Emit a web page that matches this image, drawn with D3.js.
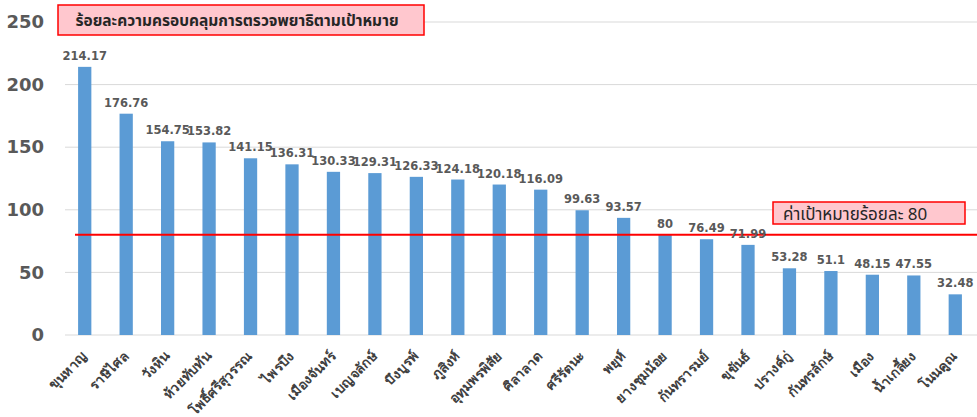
<!DOCTYPE html>
<html>
<head>
<meta charset="utf-8">
<script src="https://cdn.jsdelivr.net/npm/d3@7"></script>
<style>
  html, body { margin: 0; padding: 0; background: #fff; }
  svg { display: block; font-family: "Noto Sans Thai", Tahoma, "DejaVu Sans", sans-serif; }
</style>
</head>
<body>
<svg id="chart" width="977" height="417"></svg>
<script>
// Districts and their coverage percentages
const districts = ["ขุนหาญ", "ราษีไศล", "วังหิน", "ห้วยทับทัน", "โพธิ์ศรีสุวรรณ", "ไพรบึง", "เมืองจันทร์",
  "เบญจลักษ์", "บึงบูรพ์", "ภูสิงห์", "อุทุมพรพิสัย", "ศิลาลาด", "ศรีรัตนะ", "พยุห์", "ยางชุมน้อย",
  "กันทรารมย์", "ขุขันธ์", "ปรางค์กู่", "กันทรลักษ์", "เมือง", "น้ำเกลี้ยง", "โนนคูณ"];
const coverage = [214.17, 176.76, 154.75, 153.82, 141.15, 136.31, 130.33, 129.31, 126.33, 124.18,
  120.18, 116.09, 99.63, 93.57, 80, 76.49, 71.99, 53.28, 51.1, 48.15, 47.55, 32.48];
const yTicks = [0, 50, 100, 150, 200, 250];
const target = 80;
const titleText = "ร้อยละความครอบคลุมการตรวจพยาธิตามเป้าหมาย";
const targetText = "ค่าเป้าหมายร้อยละ 80";

const svg = d3.select("#chart");

const x = d3.scaleBand()
  .domain(districts)
  .range([64, 976])
  .paddingInner(0.68)
  .paddingOuter(0.34);

const y = d3.scaleLinear().domain([0, 250]).range([335, 22]);

// Horizontal gridlines
svg.append("g")
  .selectAll("line")
  .data(yTicks)
  .join("line")
  .attr("x1", 65).attr("x2", 977)
  .attr("y1", d => y(d)).attr("y2", d => y(d))
  .attr("stroke", "#d9d9d9").attr("stroke-width", 1);

// Y axis tick labels
const yAxis = svg.append("g")
  .attr("transform", "translate(44,0)")
  .call(d3.axisLeft(y).tickValues(yTicks).tickSize(0).tickPadding(0));
yAxis.select(".domain").remove();
yAxis.selectAll("text")
  .attr("font-family", "'DejaVu Sans', sans-serif")
  .attr("font-size", 18).attr("font-weight", "bold").attr("fill", "#595959");

// Bars
svg.append("g")
  .selectAll("rect")
  .data(coverage)
  .join("rect")
  .attr("x", (d, i) => x(districts[i]))
  .attr("width", x.bandwidth())
  .attr("y", d => y(d))
  .attr("height", d => y(0) - y(d))
  .attr("fill", "#5b9bd5");

// Target line
svg.append("line")
  .attr("x1", 75).attr("x2", 977)
  .attr("y1", y(target)).attr("y2", y(target))
  .attr("stroke", "#ff0000").attr("stroke-width", 2);

// Value labels
svg.append("g")
  .selectAll("text")
  .data(coverage)
  .join("text")
  .attr("x", (d, i) => x(districts[i]) + x.bandwidth() / 2)
  .attr("y", d => y(d) - 7)
  .attr("text-anchor", "middle")
  .attr("font-family", "'DejaVu Sans', sans-serif")
  .attr("font-size", 11.5).attr("font-weight", "bold").attr("fill", "#595959")
  .text(d => d);

// Rotated category labels
const xAxis = svg.append("g")
  .attr("transform", `translate(0,${y(0)})`)
  .call(d3.axisBottom(x).tickSize(0).tickPadding(0));
xAxis.select(".domain").remove();
xAxis.selectAll("text")
  .attr("font-size", 13.5).attr("font-weight", "bold").attr("fill", "#404040")
  .attr("text-anchor", "end")
  .attr("dy", null)
  .attr("transform", "translate(3,22) rotate(-45)");

// Title box
svg.append("rect")
  .attr("x", 58).attr("y", 5).attr("width", 366).attr("height", 30)
  .attr("fill", "#ffc7ce").attr("stroke", "#ff0000").attr("stroke-width", 1.5);
svg.append("text")
  .attr("x", 237).attr("y", 26)
  .attr("text-anchor", "middle")
  .attr("font-size", 15.5).attr("font-weight", "bold").attr("fill", "#262626")
  .text(titleText);

// Target annotation box
svg.append("rect")
  .attr("x", 773).attr("y", 202).attr("width", 192).attr("height", 22)
  .attr("fill", "#ffc7ce").attr("stroke", "#ff0000").attr("stroke-width", 1.5);
svg.append("text")
  .attr("x", 783).attr("y", 219.5)
  .attr("font-size", 17).attr("fill", "#262626")
  .text(targetText);
</script>
</body>
</html>
